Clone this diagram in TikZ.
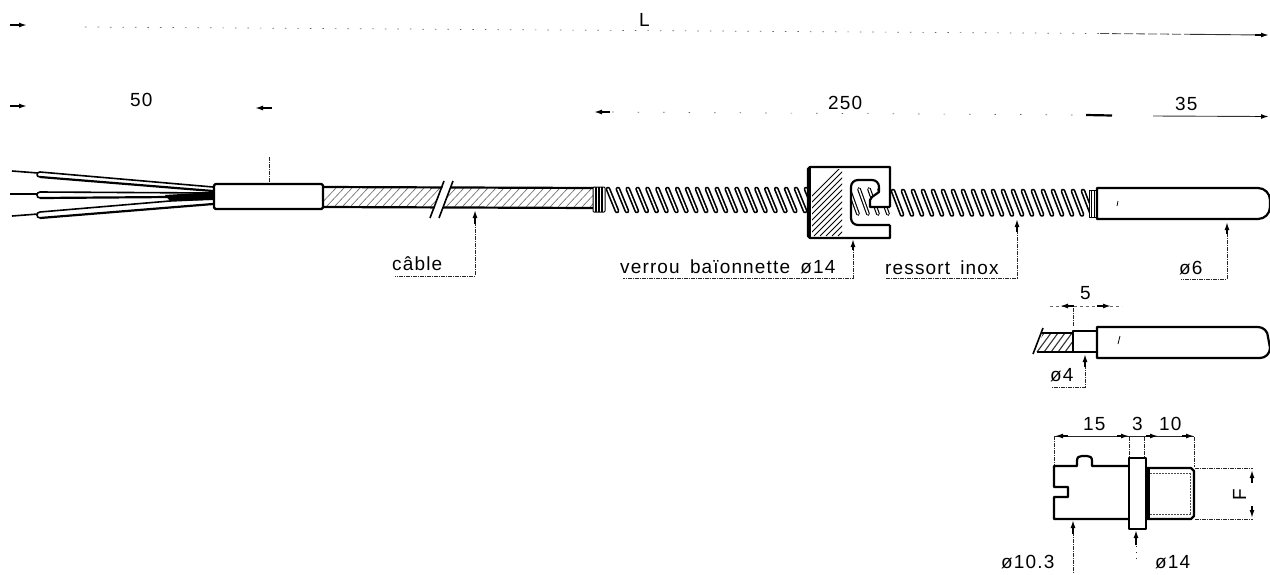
\documentclass[tikz,border=0pt]{standalone}
\usepackage{fontspec}
\setmainfont{Liberation Sans}
\newfontfamily\dimfont[LetterSpace=6,WordSpace=1.6]{Liberation Sans}
\usetikzlibrary{arrows.meta}
\tikzset{
  thick line/.style={line width=2.2pt,black,line join=round},
  med line/.style={line width=1.6pt,black,line join=round},
  faint/.style={line width=.7pt,black!60,dash pattern=on 1.5pt off 11pt},
  leader/.style={line width=.7pt,black!85,dash pattern=on 4pt off 1pt on 1pt off 1pt},
  blob/.style={line width=1.5pt,black,-{Latex[length=8pt,width=5pt]}},
  hatch/.style={line width=.6pt,black!60},
  txt/.style={font=\fontsize{19}{19}\selectfont\dimfont,inner sep=0pt,anchor=base west},
  strandout/.style={line width=4.8pt,black,line cap=round},
  strandin/.style={line width=1.5pt,white,line cap=round}
}
\begin{document}
\begin{tikzpicture}[x=1pt,y=-1pt]
\useasboundingbox (0,0) rectangle (1270,574);
\fill[white] (0,0) rectangle (1270,574);

%% ---- dimension lines
\draw[faint] (85,27) -- (1100,33.5);
\draw[line width=.8pt,black!70,dash pattern=on 9pt off 3pt] (1100,33.5) -- (1190,34.3);
\draw[line width=.9pt,black!80] (1190,34.3) -- (1262,35);
\draw[blob] (10,25) -- (27,25);
\draw[blob] (1255,35) -- (1269,35);
\node[txt] (lL) at (639,26) {L};

\draw[blob] (10,106) -- (27,106);
\draw[blob] (272,108) -- (255,108);
\node[txt] (l50) at (130,106) {50};

\draw[faint,dash pattern=on 1.5pt off 24pt] (612,112) -- (1085,115);
\draw[blob] (610,112) -- (594,112);
\draw[line width=2.2pt,black] (1086,115) -- (1112,115.5);
\node[txt] (l250) at (828,109) {250};
\draw[line width=.9pt,black!80] (1153,116) -- (1262,116.5);
\draw[blob] (1255,116.5) -- (1269,116.5);
\node[txt] (l35) at (1175,110) {35};

%% ---- wires
\draw[thick line,line width=1.6pt] (12,171) -- (38,173);
\draw[thick line,line width=1.6pt] (10,194) -- (38,194);
\draw[thick line,line width=1.6pt] (12,216) -- (38,214);
\draw[med line] (40,177) .. controls (36,177) and (36,172) .. (40,172) -- (213,187);
\draw[thick line] (40,177) -- (213,191);
\draw[med line] (40,198) .. controls (36,198) and (36,192) .. (40,192) -- (213,193);
\draw[thick line] (40,198) -- (170,197) -- (213,195);
\draw[med line] (40,218) .. controls (36,218) and (36,212) .. (40,212) -- (170,201) -- (213,199);
\draw[thick line] (40,218) -- (213,204);
\fill[black] (165,195) -- (213,192) -- (213,200) -- (170,201) -- cycle;

%% ---- cable
\begin{scope}
\clip (323,188) rectangle (595,207);
\foreach \i in {0,8,...,280} {
  \draw[hatch] (318+\i,207) -- (336+\i,188);
}
\end{scope}
\draw[thick line] (323,187) -- (595,188);
\draw[thick line] (323,207) -- (595,208);
% break
\fill[white] (431,218) -- (445,181) -- (453,181) -- (439,218) -- cycle;
\draw[med line] (430,218) -- (444,181);
\draw[med line] (439,218) -- (453,181);

% collar on cable
\draw[thick line,fill=white,rounded corners=1.5pt] (214,184) rectangle (323,209);
\draw[leader] (269,157) -- (269,183);

%% ---- spring, left
\draw[med line,line width=1pt,fill=white,rounded corners=1pt] (593,187) rectangle (605,212);
\foreach \i in {1,...,3} {
  \draw[line width=1.1pt] (593+\i*3,187) -- (593+\i*3,212);
}
\foreach \i in {0,...,20} {
  \draw[strandout] (608+\i*9.9,189) -- (617+\i*9.9,211);
  \draw[strandin]  (608+\i*9.9,189) -- (617+\i*9.9,211);
}
%% ---- spring, right
\foreach \i in {0,...,19} {
  \draw[strandout] (893+\i*10,191) -- (902+\i*10,214.5);
  \draw[strandin]  (893+\i*10,191) -- (902+\i*10,214.5);
}
\draw[med line,line width=1pt,fill=white] (1089,190) rectangle (1097,217);
\foreach \i in {1,2} {
  \draw[line width=1.1pt] (1089+\i*2.7,190) -- (1089+\i*2.7,217);
}

%% ---- bayonet lock
\fill[white] (808,167) rectangle (890,238);
\begin{scope}
\clip (812,169) rectangle (842,236);
\foreach \i in {0,6,...,132} {
  \draw[line width=.8pt,black] (772+\i,236) -- (842+\i,166);
}
\end{scope}
\begin{scope}
\clip (851,187) .. controls (851,183) and (854,180) .. (858,180) -- (872,180)
  .. controls (876,180) and (879,183) .. (879,187)
  -- (879,192) -- (872,197) -- (870,200) -- (870,207) -- (891,207) -- (891,225)
  -- (858,225) .. controls (854,225) and (851,222) .. (851,218) -- cycle;
\fill[white] (845,175) rectangle (895,230);
\foreach \i in {-2,...,3} {
  \draw[strandout,line width=3.8pt] (859+\i*10,189) -- (868+\i*10,214);
  \draw[strandin] (859+\i*10,189) -- (868+\i*10,214);
}
\fill[white] (866,180) rectangle (880,187);
\end{scope}
\draw[thick line] (890,207) -- (870,207) -- (870,200) -- (872,197) -- (879,192) -- (879,187)
  .. controls (879,183) and (876,180) .. (872,180) -- (858,180)
  .. controls (854,180) and (851,183) .. (851,187) -- (851,218)
  .. controls (851,222) and (854,225) .. (858,225) -- (890,225);
\draw[thick line] (890,207) -- (890,167) -- (810,167) -- (808,169) -- (808,236) -- (810,238) -- (890,238) -- (890,225);
\draw[line width=3pt] (809,168) -- (809,237);

%% ---- probe main
\draw[thick line,fill=white] (1097,188) -- (1258,188) arc[start angle=-90,end angle=0,radius=12] -- (1270,207) arc[start angle=0,end angle=90,radius=12] -- (1097,219) -- cycle;
\draw[line width=.8pt] (1118,201) -- (1117,206);

%% ---- leaders with labels
\draw[leader] (475,222) -- (475,276) -- (395,276);
\draw[blob] (475,224) -- (475,210);
\node[txt] (lcable) at (392,270) {câble};

\draw[leader] (853,247) -- (853,278) -- (623,278);
\draw[blob] (853,250) -- (853,239);
\node[txt] (lverrou) at (620,273) {verrou baïonnette ø14};

\draw[leader] (1017,230) -- (1017,278) -- (885,278);
\draw[blob] (1017,232) -- (1017,219);
\node[txt] (lressort) at (885,274) {ressort inox};

\draw[leader] (1227,233) -- (1227,279) -- (1181,279);
\draw[blob] (1227,234) -- (1227,222);
\node[txt] (lphi6) at (1179,274) {ø6};

%% ---- detail 2
\begin{scope}
\clip (1043,333) -- (1073,333) -- (1073,352) -- (1036,352) -- cycle;
\foreach \i in {0,7,...,42} { \draw[hatch,line width=1.1pt,black!80] (1030+\i,352) -- (1044+\i,333); }
\end{scope}
\draw[thick line] (1042,333) -- (1073,333);
\draw[thick line] (1037,352) -- (1073,352);
\draw[med line] (1043,328) -- (1033,354);
\draw[thick line,fill=white] (1073,331) rectangle (1097,352);
\draw[thick line,fill=white] (1097,327) -- (1258,327) arc[start angle=-90,end angle=0,radius=10] -- (1270,348) arc[start angle=0,end angle=90,radius=10] -- (1097,358) -- cycle;
\draw[line width=.8pt] (1120,336) -- (1118,344);
\draw[leader] (1073,308) -- (1073,326);
\draw[faint,dash pattern=on 3pt off 3pt] (1050,306) -- (1122,306);
\draw[blob] (1074,306) -- (1060,306);
\draw[blob] (1097,306) -- (1111,306);
\node[txt] (l5) at (1080,299) {5};
\draw[leader] (1085,365) -- (1085,387) -- (1051,387);
\draw[blob] (1085,367) -- (1085,354);
\node[txt] (lphi4) at (1050,381) {ø4};

%% ---- detail 3
\draw[thick line,fill=white] (1129,466) -- (1092,466) -- (1092,461) .. controls (1092,457) and (1090,456) .. (1087,456) -- (1082,456) .. controls (1079,456) and (1077,457) .. (1077,461) -- (1077,466) -- (1054,466)
  -- (1054,487) -- (1068,487) -- (1068,497) -- (1054,497) -- (1054,519) -- (1129,519);
\draw[thick line,fill=white] (1146,468) -- (1191,468) -- (1194,471) -- (1194,516) -- (1191,519) -- (1146,519);
\draw[line width=3pt] (1148,468) -- (1148,519);
\draw[line width=.8pt,dash pattern=on 2pt off 1pt,black!70] (1150,473) -- (1192,473) (1150,514) -- (1192,514) (1190,473) -- (1190,514);
\draw[thick line,fill=white] (1129,458) rectangle (1146,529);

\draw[line width=.9pt,black!85] (1054,436) -- (1194,436);
\draw[leader] (1054,436) -- (1054,465);
\draw[leader] (1129,437) -- (1129,457);
\draw[leader] (1144,437) -- (1144,457);
\draw[leader] (1194,437) -- (1194,467);
\draw[blob] (1068,436) -- (1055,436);
\draw[blob] (1117,436) -- (1129,436);
\draw[blob] (1146,436) -- (1158,436);
\draw[blob] (1182,436) -- (1194,436);
\node[txt] (l15) at (1083,430) {15};
\node[txt] (l3) at (1132,430) {3};
\node[txt] (l10) at (1159,430) {10};

\draw[leader] (1195,468) -- (1253,468);
\draw[leader] (1195,519) -- (1253,519);
\draw[blob] (1252,483) -- (1252,470);
\draw[blob] (1252,506) -- (1252,518);
\node[txt,anchor=base,rotate=90] (lF) at (1246,495) {F};

\draw[leader] (1073,532) -- (1073,574);
\draw[blob] (1073,534) -- (1073,520);
\node[txt] (lphi103) at (1001,568) {ø10.3};
\draw[blob] (1136,545) -- (1136,530);
\draw[leader,dash pattern=on 1pt off 5pt] (1136,546) -- (1136,562);
\node[txt] (lphi14) at (1155,568) {ø14};
\end{tikzpicture}
\end{document}
